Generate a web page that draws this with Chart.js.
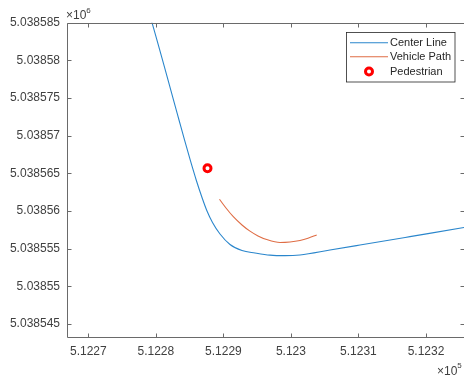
<!DOCTYPE html>
<html>
<head>
<meta charset="utf-8">
<script src="https://cdn.jsdelivr.net/npm/chart.js@4.4.1/dist/chart.umd.min.js"></script>
<style>
html,body{margin:0;padding:0;background:#fff;}
#wrap{width:464px;height:381px;position:relative;}
</style>
</head>
<body>
<div id="wrap"><canvas id="c" width="464" height="381"></canvas></div>
<script>
// ---- data (metres, raw units) ----
const centerX = [512278.543, 512279.431, 512283.429, 512284.244, 512285.087, 512285.976, 512286.834, 512287.575, 512288.389, 512289.500, 512290.980, 512292.757, 512294.682, 512296.903, 512299.123, 512301.344, 512305.786, 512310.228, 512317.631, 512325.626, 512327.995];
const centerY = [5038587.655, 5038585.0, 5038572.083, 5038569.429, 5038566.774, 5038564.119, 5038561.795, 5038560.003, 5038558.477, 5038556.950, 5038555.556, 5038554.760, 5038554.428, 5038554.136, 5038554.069, 5038554.162, 5038554.813, 5038555.477, 5038556.592, 5038557.800, 5038558.145];
const pathX = [512289.425, 512290.388, 512291.469, 512292.757, 512293.941, 512295.126, 512296.414, 512298.383, 512299.864, 512301.344, 512302.529, 512303.817];
const pathY = [5038561.556, 5038560.401, 5038559.246, 5038558.145, 5038557.322, 5038556.685, 5038556.207, 5038555.822, 5038555.888, 5038556.087, 5038556.379, 5038556.817];
const pedX = [512287.649];
const pedY = [5038565.685];
const xTicks = [512270, 512280, 512290, 512300, 512310, 512320];
const yTicks = [5038545, 5038550, 5038555, 5038560, 5038565, 5038570, 5038575, 5038580, 5038585];
const xRange = [512266.77, 512325.63];
const yRange = [5038543.27, 5038585];
const labels = ['Center Line', 'Vehicle Path', 'Pedestrian'];

const toPts = (xs, ys) => xs.map((x, i) => ({x: x, y: ys[i]}));
const TXT = '#404040';
const AX = '#6a6a6a';
const FONT = '"Liberation Sans", Arial, Helvetica, sans-serif';

const framePlugin = {
  id: 'frame',
  afterDraw(chart) {
    const ctx = chart.ctx;
    const a = chart.chartArea;
    const xs = chart.scales.x, ys = chart.scales.y;
    ctx.save();
    ctx.strokeStyle = AX;
    ctx.lineWidth = 1;
    ctx.beginPath();
    const L = Math.round(a.left) + 0.5, R = Math.round(a.right) + 0.5;
    const T = Math.round(a.top) + 0.5, B = Math.round(a.bottom) + 0.5;
    ctx.moveTo(L, T); ctx.lineTo(R, T); ctx.lineTo(R, B); ctx.lineTo(L, B); ctx.closePath();
    ctx.stroke();
    ctx.beginPath();
    xTicks.forEach(v => {
      const p = Math.round(xs.getPixelForValue(v)) + 0.5;
      ctx.moveTo(p, B); ctx.lineTo(p, B - 4);
      ctx.moveTo(p, T); ctx.lineTo(p, T + 4);
    });
    yTicks.forEach(v => {
      const p = Math.round(ys.getPixelForValue(v)) + 0.5;
      ctx.moveTo(L, p); ctx.lineTo(L + 4, p);
      ctx.moveTo(R, p); ctx.lineTo(R - 4, p);
    });
    ctx.stroke();

    // exponent labels
    ctx.fillStyle = TXT;
    ctx.textBaseline = 'middle';
    ctx.textAlign = 'left';
    ctx.font = '12px ' + FONT;
    ctx.fillText('\u00d710', 66, 16);
    let w = ctx.measureText('\u00d710').width;
    ctx.font = '8px ' + FONT;
    ctx.fillText('6', 66 + w, 11);
    ctx.font = '12px ' + FONT;
    ctx.fillText('\u00d710', 437, 372);
    w = ctx.measureText('\u00d710').width;
    ctx.font = '8px ' + FONT;
    ctx.fillText('5', 437 + w, 366);

    // legend
    const ds = chart.data.datasets;
    const bx = 346.5, by = 32.5, bw = 108.5, bh = 49.5;
    ctx.fillStyle = '#fff';
    ctx.fillRect(bx, by, bw, bh);
    ctx.strokeStyle = '#262626';
    ctx.lineWidth = 0.8;
    ctx.strokeRect(bx, by, bw, bh);
    const rows = [42.7, 56.7, 71.5];
    ctx.font = '11px ' + FONT;
    ctx.textBaseline = 'middle';
    ds.forEach((d, i) => {
      const y = rows[i];
      if (i < 2) {
        ctx.strokeStyle = d.borderColor;
        ctx.lineWidth = 1.1;
        ctx.beginPath();
        ctx.moveTo(350, y); ctx.lineTo(388, y);
        ctx.stroke();
      } else {
        ctx.beginPath();
        ctx.arc(369, y, 3.5, 0, Math.PI * 2);
        ctx.fillStyle = '#fff';
        ctx.fill();
        ctx.strokeStyle = d.borderColor;
        ctx.lineWidth = 3;
        ctx.stroke();
      }
      ctx.fillStyle = '#262626';
      ctx.fillText(d.label, 390, y + 0.5);
    });
    ctx.restore();
  }
};

new Chart(document.getElementById('c'), {
  type: 'scatter',
  data: {
    datasets: [
      {label: labels[0], data: toPts(centerX, centerY), showLine: true, borderColor: '#2a86cc', borderWidth: 1.1, pointRadius: 0, cubicInterpolationMode: 'monotone', clip: 0},
      {label: labels[1], data: toPts(pathX, pathY), showLine: true, borderColor: '#DF6D45', borderWidth: 1.1, pointRadius: 0, cubicInterpolationMode: 'monotone', clip: 0},
      {label: labels[2], data: toPts(pedX, pedY), showLine: false, borderColor: '#FF0000', backgroundColor: '#FFFFFF', borderWidth: 3, pointRadius: 3.5, pointHoverRadius: 3.5}
    ]
  },
  options: {
    responsive: false,
    animation: false,
    events: [],
    layout: {autoPadding: false, padding: {top: 22.7, left: 0, right: 0, bottom: 0}},
    plugins: {legend: {display: false}, tooltip: {enabled: false}},
    scales: {
      x: {
        type: 'linear', min: xRange[0], max: xRange[1],
        grid: {display: false, drawTicks: false}, border: {display: false},
        afterBuildTicks: s => { s.ticks = xTicks.map(v => ({value: v})); },
        afterFit: s => { s.height = 44; s.paddingLeft = 0; s.paddingRight = 0; },
        ticks: {color: TXT, font: {family: FONT, size: 12}, padding: 7, maxRotation: 0, autoSkip: false,
          callback: v => String(parseFloat((v / 1e5).toFixed(6)))}
      },
      y: {
        type: 'linear', min: yRange[0], max: yRange[1],
        grid: {display: false, drawTicks: false}, border: {display: false},
        afterBuildTicks: s => { s.ticks = yTicks.map(v => ({value: v})); },
        afterFit: s => { s.width = 66.5; s.paddingTop = 0; s.paddingBottom = 0; },
        ticks: {color: TXT, font: {family: FONT, size: 12}, padding: 6.5, autoSkip: false,
          callback: v => String(parseFloat((v / 1e6).toFixed(7)))}
      }
    }
  },
  plugins: [framePlugin]
});
</script>
</body>
</html>
